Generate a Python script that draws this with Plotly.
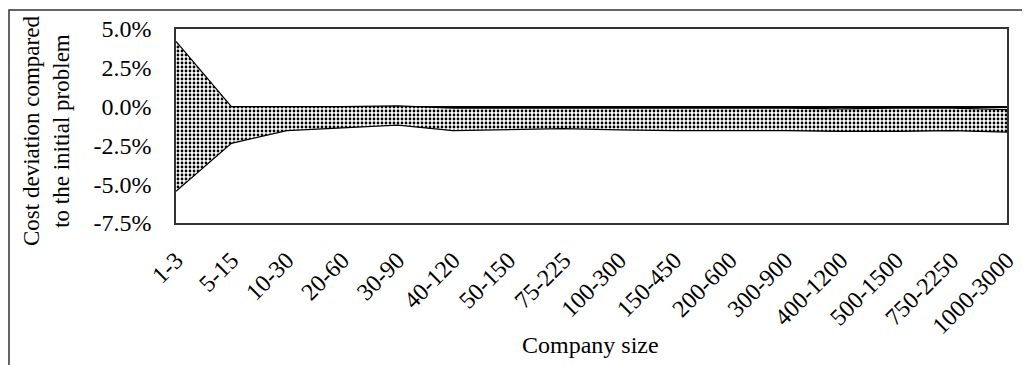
import plotly.graph_objects as go

categories = ["1-3", "5-15", "10-30", "20-60", "30-90", "40-120", "50-150", "75-225",
              "100-300", "150-450", "200-600", "300-900", "400-1200", "500-1500",
              "750-2250", "1000-3000"]
upper_pct = [4.2, 0.0, 0.0, 0.0, 0.05, -0.1, -0.1, -0.1, -0.1, -0.1, -0.1, -0.1,
             -0.15, -0.1, -0.1, -0.2]
lower_pct = [-5.45, -2.37, -1.55, -1.36, -1.19, -1.55, -1.5, -1.42, -1.5, -1.55,
             -1.55, -1.55, -1.6, -1.6, -1.55, -1.65]
y_tick_vals = [-7.5, -5.0, -2.5, 0.0, 2.5, 5.0]
y_tick_text = ["-7.5%", "-5.0%", "-2.5%", "0.0%", "2.5%", "5.0%"]

FONT = "Liberation Serif, Times New Roman, serif"
FS = 24

fig = go.Figure()
fig.add_trace(go.Scatter(x=categories, y=lower_pct, mode="lines",
                         line=dict(color="black", width=1.2), showlegend=False))
fig.add_trace(go.Scatter(x=categories, y=upper_pct, mode="lines",
                         line=dict(color="black", width=1.2), fill="tonexty",
                         fillcolor="white",
                         fillpattern=dict(shape=".", fgcolor="black", bgcolor="white",
                                          size=4, solidity=0.38, fillmode="replace"),
                         showlegend=False))

# page body has an 8px margin, so the figure is 1022x357 placed at (8, 8)
W, H = 1022, 357
L, R, T, B = 168, 23, 21, 142
pw, ph = W - L - R, H - T - B

def px(x):
    return (x - L) / pw

def py(y):
    return (H - B - y) / ph

fig.update_layout(
    width=W, height=H,
    margin=dict(l=L, r=R, t=T, b=B, autoexpand=False),
    paper_bgcolor="white", plot_bgcolor="white",
    font=dict(family=FONT, size=FS, color="black"),
    xaxis=dict(type="category", range=[0, len(categories) - 1],
               showline=True, mirror=True, linecolor="#333333", linewidth=1.5,
               showgrid=False, ticks="", tickangle=-45, ticklabelstandoff=12,
               tickfont=dict(family=FONT, size=FS, color="black"),
               automargin=False),
    yaxis=dict(range=[-7.5, 5.0], tickvals=y_tick_vals, ticktext=y_tick_text,
               showline=True, mirror=True, linecolor="#333333", linewidth=1.5,
               showgrid=False, ticks="", zeroline=True, zerolinecolor="black",
               zerolinewidth=1.5, ticklabelstandoff=18,
               tickfont=dict(family=FONT, size=FS, color="black"),
               automargin=False),
)

fig.add_annotation(text="Cost deviation compared<br>to the initial problem",
                   xref="paper", yref="paper", x=px(38), y=py(123),
                   xanchor="center", yanchor="middle", textangle=-90,
                   showarrow=False, font=dict(family=FONT, size=23, color="black"))
fig.add_annotation(text="Company size", xref="paper", yref="paper",
                   x=px(582), y=py(337), xanchor="center", yanchor="middle",
                   showarrow=False, font=dict(family=FONT, size=FS, color="black"))

# outer chart-area frame
fig.add_shape(type="rect", xref="paper", yref="paper",
              x0=px(1), x1=px(W + 20), y0=py(H + 20), y1=py(2),
              line=dict(color="#333333", width=1.5), layer="below")

fig.write_html("out.html")
